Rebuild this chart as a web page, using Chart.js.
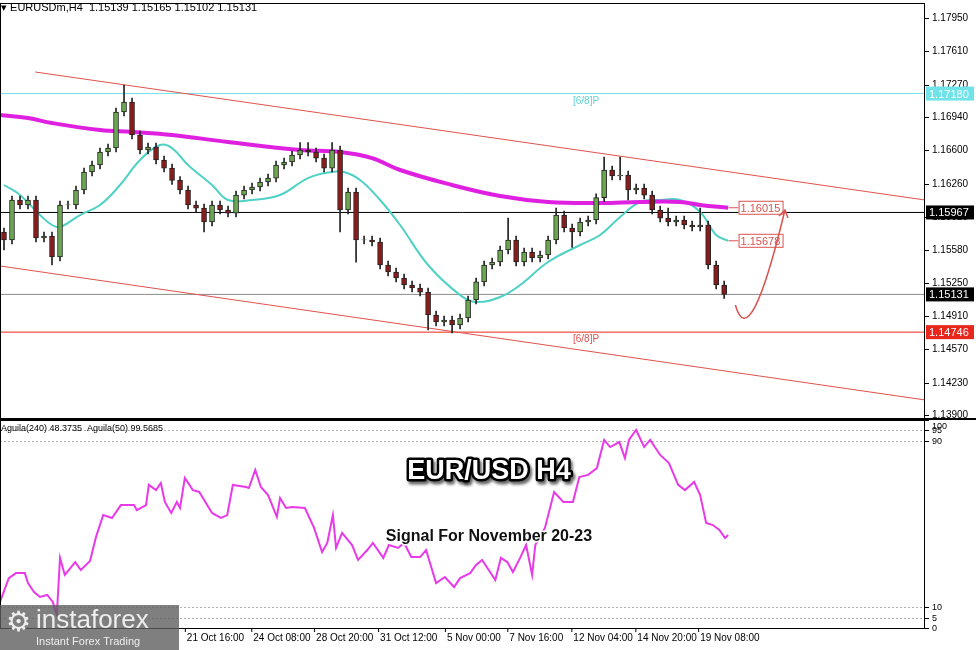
<!DOCTYPE html>
<html><head><meta charset="utf-8">
<script src="https://cdn.jsdelivr.net/npm/chart.js@4.4.1/dist/chart.umd.min.js"></script>
<style>
html,body{margin:0;padding:0;background:#fff;width:976px;height:650px;overflow:hidden;font-family:"Liberation Sans",Arial,sans-serif}
#top{position:absolute;left:0;top:0}
#bot{position:absolute;left:0;top:420px}
#sep{position:absolute;left:0;top:418px;width:976px;height:2px;background:#000}
</style></head><body>
<canvas id="top" width="976" height="418"></canvas>
<div id="sep"></div>
<canvas id="bot" width="976" height="230"></canvas>
<script>
// H4 candles, one per 8h step (index = position along the x axis)
const opens = [1.15768,1.15686,1.16094,1.16043,1.16094,1.15706,1.15727,1.15513,1.16043,1.16043,1.16196,1.16380,1.16451,1.16584,1.16625,1.16992,1.17094,1.16757,1.16604,1.16635,1.16502,1.16420,1.16294,1.16196,1.16043,1.16012,1.15870,1.16043,1.15992,1.15961,1.16144,1.16196,1.16227,1.16278,1.16318,1.16451,1.16482,1.16553,1.16604,1.16584,1.16522,1.16420,1.16604,1.15992,1.16176,1.15686,1.15686,1.15666,1.15431,1.15360,1.15298,1.15227,1.15196,1.15155,1.14921,1.14850,1.14870,1.14819,1.14890,1.15074,1.15258,1.15431,1.15462,1.15584,1.15686,1.15462,1.15564,1.15502,1.15533,1.15686,1.15940,1.15808,1.15768,1.15870,1.15890,1.16118,1.16400,1.16339,1.16349,1.16196,1.16216,1.16144,1.15992,1.15910,1.15870,1.15890,1.15839,1.15819,1.15839,1.15431,1.15227];
const closes = [1.15686,1.16094,1.16043,1.16094,1.15706,1.15727,1.15513,1.16043,1.16043,1.16196,1.16380,1.16451,1.16584,1.16625,1.16992,1.17094,1.16757,1.16604,1.16635,1.16502,1.16420,1.16294,1.16196,1.16043,1.16012,1.15870,1.16043,1.15992,1.15961,1.16144,1.16196,1.16227,1.16278,1.16318,1.16451,1.16482,1.16553,1.16604,1.16584,1.16522,1.16420,1.16604,1.15992,1.16176,1.15686,1.15686,1.15666,1.15431,1.15360,1.15298,1.15227,1.15196,1.15155,1.14921,1.14850,1.14870,1.14819,1.14890,1.15074,1.15258,1.15431,1.15462,1.15584,1.15686,1.15462,1.15564,1.15502,1.15533,1.15686,1.15940,1.15808,1.15768,1.15870,1.15890,1.16118,1.16400,1.16339,1.16349,1.16196,1.16216,1.16144,1.15992,1.15910,1.15870,1.15890,1.15839,1.15819,1.15839,1.15431,1.15227,1.15131];
const highs = [1.15808,1.16134,1.16134,1.16134,1.16134,1.15767,1.15767,1.16083,1.16083,1.16236,1.16420,1.16491,1.16624,1.16665,1.17032,1.17267,1.17134,1.16797,1.16675,1.16675,1.16542,1.16460,1.16334,1.16236,1.16083,1.16052,1.16083,1.16083,1.16032,1.16184,1.16236,1.16267,1.16318,1.16358,1.16491,1.16522,1.16593,1.16680,1.16680,1.16624,1.16562,1.16680,1.16644,1.16216,1.16216,1.15726,1.15726,1.15706,1.15471,1.15400,1.15338,1.15267,1.15236,1.15195,1.14961,1.14910,1.14910,1.14930,1.15114,1.15298,1.15471,1.15502,1.15624,1.15910,1.15726,1.15604,1.15604,1.15573,1.15726,1.16012,1.15980,1.15848,1.15910,1.15930,1.16158,1.16533,1.16440,1.16533,1.16389,1.16256,1.16256,1.16184,1.16032,1.16012,1.15930,1.15930,1.15879,1.16012,1.15879,1.15471,1.15267];
const lows = [1.15584,1.15646,1.16003,1.16003,1.15666,1.15666,1.15431,1.15473,1.16003,1.16003,1.16156,1.16340,1.16411,1.16544,1.16585,1.16952,1.16717,1.16564,1.16564,1.16462,1.16380,1.16254,1.16156,1.16003,1.15972,1.15768,1.15830,1.15952,1.15921,1.15921,1.16104,1.16156,1.16187,1.16238,1.16278,1.16411,1.16442,1.16513,1.16544,1.16482,1.16380,1.16380,1.15768,1.15952,1.15461,1.15646,1.15626,1.15391,1.15320,1.15258,1.15187,1.15156,1.15115,1.14768,1.14810,1.14810,1.14737,1.14779,1.14850,1.15034,1.15218,1.15391,1.15422,1.15544,1.15422,1.15422,1.15462,1.15462,1.15493,1.15646,1.15768,1.15610,1.15728,1.15830,1.15850,1.16078,1.16299,1.16299,1.16094,1.16156,1.16104,1.15952,1.15870,1.15830,1.15830,1.15799,1.15779,1.15779,1.15391,1.15187,1.15091];

const fastMaX = [0,2,4.5,6,7,9.5,12,14.5,17,19.5,21,23,26,28,31,34.5,38,41,42.5,44.5,47,49.5,53,57,59,62,64.5,68,72,74.5,77,79.5,82,84.5,87,89,90.5];
const fastMa = [1.16247,1.16145,1.15941,1.15839,1.15819,1.15941,1.16043,1.16247,1.16502,1.16655,1.16624,1.16451,1.16247,1.16094,1.16094,1.16145,1.16318,1.16380,1.16380,1.16298,1.16094,1.15839,1.15431,1.15124,1.15053,1.15104,1.15227,1.15462,1.15635,1.15737,1.15921,1.16074,1.16094,1.16094,1.15972,1.15737,1.15678];
const slowMaX = [-0.5,3,6,12,16,21,28,37,42,46,49.5,56,62,68,74.5,79.5,84.5,87,90.5];
const slowMa = [1.16961,1.16930,1.16879,1.16808,1.16788,1.16757,1.16686,1.16604,1.16584,1.16522,1.16400,1.16247,1.16135,1.16074,1.16063,1.16074,1.16074,1.16043,1.16015];

const upperChannel = [[3.9,1.17400],[115.1,1.16094]];
const lowerChannel = [[-0.5,1.15421],[115.1,1.14054]];
const levels = {cyan:1.17180, black:1.15967, grey:1.15131, red:1.14746};
const priceTicks = [1.17950,1.17610,1.17270,1.16940,1.16600,1.16260,1.15920,1.15580,1.15250,1.14910,1.14570,1.14230,1.13900];

const aguilaX = [-0.5,0.6,1.5,2.6,3,3.75,4.5,5.4,6.1,6.6,7,7.6,8.9,9.6,10.75,11.5,12.4,13.5,14.6,16.25,16.6,17.75,18.1,19,19.6,20.1,20.9,21.6,22,22.6,23.6,24.4,26,27.1,27.9,28.6,30.25,30.6,31.4,32.1,33,34.1,34.5,35.25,36,37.6,38.75,39.75,40.4,41.1,41.5,42.25,43.5,44.25,45.4,46.1,47.4,48.1,49.25,50,50.9,52,52.75,54,55.1,56.25,57,58.25,59,59.75,61.4,62.1,62.9,63.6,64.5,65.25,66,66.4,67.6,68.75,69.9,71.1,71.9,73,74.1,75,75.75,76.9,77.6,78.1,79,80,80.75,82,83.1,84.25,85.1,86.25,87,87.75,88.6,89.4,90.1,90.5];
const aguila = [12.5,24.0,26.4,26.4,21.6,17.3,14.9,15.9,12.5,6.3,33.7,25.5,31.7,27.9,32.2,43.8,54.3,52.9,59.1,59.1,56.7,59.1,68.8,66.3,69.7,60.6,55.3,60.6,57.7,72.1,66.3,65.4,55.3,52.9,54.3,68.8,67.8,67.3,76.0,67.8,63.9,53.4,62.5,57.7,58.2,57.7,48.1,36.5,40.9,54.3,38.5,45.7,39.9,32.7,37.5,40.9,33.7,39.9,38.5,40.9,34.1,34.1,37.5,21.6,24.5,19.7,24.0,26.4,30.3,32.7,23.1,33.7,31.7,26.9,33.7,39.9,25.5,39.9,48.1,65.4,60.6,60.6,72.6,73.6,76.9,90.4,87.0,89.4,81.7,90.4,95.2,87.0,90.4,83.2,79.3,68.8,66.3,70.2,63.9,50.5,49.5,47.1,43.3,44.7];
const aguilaTicks = [0,5,10,90,95,100];

const timeTickX = [22.6,30.9,38.75,46.75,55.1,62.9,70.9,78.9,86.75];
const timeTickLabels = ['21 Oct 16:00','24 Oct 08:00','28 Oct 20:00','31 Oct 12:00','5 Nov 00:00','7 Nov 16:00','12 Nov 04:00','14 Nov 20:00','19 Nov 08:00'];

const X_MIN = -0.5, X_MAX = 115.1;
const FONT = '"Liberation Sans", Arial, sans-serif';

const pts = (xs, ys) => xs.map((x, i) => ({x: x, y: ys[i]}));
const hline = v => [{x: X_MIN, y: v}, {x: X_MAX, y: v}];
const line = (data, color, width, extra) => Object.assign({type: 'line', data: data, borderColor: color, borderWidth: width, pointRadius: 0, fill: false}, extra || {});

const bull = opens.map((o, i) => closes[i] >= o);
const bodies = opens.map((o, i) => ({x: i, y: [o, closes[i] === o ? o + 0.00003 : closes[i]]}));
const wicks = highs.map((h, i) => ({x: i, y: [lows[i], h]}));

// right-hand scale labels drawn by hand so the axis adds no padding to the plot
function drawAxisLabels(chart, values, fmt, size) {
  const {ctx, chartArea: a, scales: {y}} = chart;
  ctx.save();
  ctx.fillStyle = '#000'; ctx.strokeStyle = '#000';
  ctx.font = size + 'px ' + FONT; ctx.textBaseline = 'middle';
  values.forEach(v => {
    const py = Math.round(y.getPixelForValue(v)) + 0.5;
    ctx.beginPath(); ctx.moveTo(925, py); ctx.lineTo(929, py); ctx.stroke();
    ctx.fillText(fmt(v), 932, Math.max(py, a.top + 7));
  });
  ctx.restore();
}

const topPlugin = {
  id: 'topDecor',
  afterDatasetsDraw(chart) {
    const {ctx, chartArea: a, scales: {x, y}} = chart;
    ctx.save();
    ctx.font = '10px ' + FONT;
    ctx.fillStyle = '#5fd3d3';
    ctx.fillText('[6/8]P', 573, y.getPixelForValue(levels.cyan) + 10);
    ctx.fillStyle = '#d9534f';
    ctx.fillText('[6/8]P', 573, y.getPixelForValue(levels.red) + 10);
    const box = (v, xi, txt) => {
      const px = x.getPixelForValue(xi), py = y.getPixelForValue(v);
      ctx.strokeStyle = '#d9534f'; ctx.lineWidth = 1;
      ctx.beginPath(); ctx.moveTo(px - 10, py); ctx.lineTo(px, py); ctx.stroke();
      ctx.fillStyle = '#fff'; ctx.fillRect(px, py - 7, 44, 14); ctx.strokeRect(px + 0.5, py - 6.5, 44, 13);
      ctx.fillStyle = '#d9534f'; ctx.font = '11px ' + FONT; ctx.textBaseline = 'middle';
      ctx.fillText(txt, px + 2, py + 1);
    };
    box(slowMa[slowMa.length - 1], 91.8, '1.16015');
    box(fastMa[fastMa.length - 1], 91.8, '1.15678');
    const p0 = [x.getPixelForValue(91.4), y.getPixelForValue(1.15023)];
    const p1 = [x.getPixelForValue(97.6), y.getPixelForValue(1.15992)];
    const c = [x.getPixelForValue(93.2), y.getPixelForValue(1.14500)];
    ctx.strokeStyle = '#d9534f'; ctx.lineWidth = 1.5;
    ctx.beginPath(); ctx.moveTo(p0[0], p0[1]); ctx.quadraticCurveTo(c[0], c[1], p1[0], p1[1]); ctx.stroke();
    ctx.beginPath(); ctx.moveTo(p1[0] - 6, p1[1] + 6); ctx.lineTo(p1[0], p1[1]); ctx.lineTo(p1[0] + 3, p1[1] + 8); ctx.stroke();
    ctx.strokeStyle = '#000'; ctx.lineWidth = 1;
    ctx.strokeRect(a.left + 0.5, a.top + 0.5, a.right - a.left - 1, a.bottom - a.top);
    ctx.restore();
  },
  afterDraw(chart) {
    const {ctx, scales: {y}} = chart;
    drawAxisLabels(chart, priceTicks, v => v.toFixed(5), 10);
    ctx.save();
    const tag = (v, bg, fg) => {
      const py = y.getPixelForValue(v);
      ctx.fillStyle = bg; ctx.fillRect(926, py - 7, 48, 14);
      ctx.fillStyle = fg; ctx.font = '11px ' + FONT; ctx.textBaseline = 'middle';
      ctx.fillText(v.toFixed(5), 929, py + 1);
    };
    tag(levels.cyan, '#6fe3e8', '#fff');
    tag(levels.black, '#000', '#fff');
    tag(levels.grey, '#000', '#fff');
    tag(levels.red, '#e8261c', '#fff');
    ctx.fillStyle = '#000'; ctx.font = '11px ' + FONT; ctx.textBaseline = 'middle';
    ctx.fillText('\u25BE EURUSDm,H4  1.15139 1.15165 1.15102 1.15131', 1, 8);
    ctx.restore();
  }
};

new Chart(document.getElementById('top'), {
  type: 'bar',
  data: {datasets: [
    line(pts(slowMaX, slowMa), '#e020e0', 4, {tension: 0.4}),
    line(pts(fastMaX, fastMa), '#4fd1c5', 2, {tension: 0.4}),
    line(upperChannel.map(p => ({x: p[0], y: p[1]})), '#e0524a', 1),
    line(lowerChannel.map(p => ({x: p[0], y: p[1]})), '#e0524a', 1),
    line(hline(levels.cyan), '#6fe3e8', 1),
    line(hline(levels.black), '#000', 1),
    line(hline(levels.grey), '#8a8a8a', 1),
    line(hline(levels.red), '#e8261c', 1),
    {type: 'bar', data: bodies, backgroundColor: bull.map(b => b ? '#6aa84f' : '#8b1a1a'), borderColor: '#222', borderWidth: 1, borderSkipped: false, barThickness: 5, grouped: false, order: -2},
    {type: 'bar', data: wicks, backgroundColor: '#222', barThickness: 1, grouped: false, order: -1}
  ]},
  options: {
    animation: false, responsive: false, devicePixelRatio: 1,
    layout: {padding: {top: 3, bottom: 0, left: 0}},
    plugins: {legend: {display: false}, tooltip: {enabled: false}},
    scales: {
      x: {type: 'linear', min: X_MIN, max: X_MAX, display: false, offset: false},
      y: {position: 'right', min: 1.13870, max: 1.18104,
        afterFit: s => { s.width = 51; },
        grid: {display: false}, border: {display: false},
        ticks: {display: false}}
    }
  },
  plugins: [topPlugin]
});

const botPlugin = {
  id: 'botDecor',
  beforeDatasetsDraw(chart) {
    const {ctx, chartArea: a, scales: {y}} = chart;
    ctx.save();
    ctx.strokeStyle = '#b0b0b0'; ctx.setLineDash([2, 2]); ctx.lineWidth = 1;
    [5, 10, 90, 95].forEach(v => {
      const py = Math.round(y.getPixelForValue(v)) + 0.5;
      ctx.beginPath(); ctx.moveTo(a.left, py); ctx.lineTo(a.right, py); ctx.stroke();
    });
    ctx.restore();
  },
  afterDraw(chart) {
    const {ctx, chartArea: a, scales: {x}} = chart;
    drawAxisLabels(chart, aguilaTicks, v => String(v), 9);
    ctx.save();
    ctx.strokeStyle = '#000'; ctx.lineWidth = 1;
    ctx.strokeRect(a.left + 0.5, a.top + 0.5, a.right - a.left - 1, a.bottom - a.top);
    ctx.fillStyle = '#000'; ctx.font = '9px ' + FONT; ctx.textBaseline = 'middle';
    ctx.fillText('Aguila(240) 48.3735  Aguila(50) 99.5685', 1, 9);
    ctx.font = '10px ' + FONT;
    timeTickX.forEach((v, i) => {
      const px = x.getPixelForValue(v);
      ctx.beginPath(); ctx.moveTo(px + 0.5, a.bottom); ctx.lineTo(px + 0.5, a.bottom + 4); ctx.stroke();
      ctx.fillText(timeTickLabels[i], px + 2, a.bottom + 10);
    });
    ctx.textAlign = 'center';
    ctx.font = 'bold 27px ' + FONT;
    ctx.lineJoin = 'round';
    ctx.strokeStyle = '#000'; ctx.lineWidth = 5;
    ctx.shadowColor = 'rgba(0,0,0,0.6)'; ctx.shadowOffsetX = 2; ctx.shadowOffsetY = 3; ctx.shadowBlur = 3;
    ctx.strokeText('EUR/USD H4', 489, 52);
    ctx.shadowColor = 'transparent';
    ctx.fillStyle = '#fff'; ctx.fillText('EUR/USD H4', 489, 52);
    ctx.font = 'bold 16px ' + FONT;
    ctx.strokeStyle = '#fff'; ctx.lineWidth = 3;
    ctx.strokeText('Signal For November 20-23', 489, 117);
    ctx.fillStyle = '#111'; ctx.fillText('Signal For November 20-23', 489, 117);
    ctx.textAlign = 'left';
    ctx.fillStyle = 'rgba(95,95,95,0.8)'; ctx.fillRect(0, 185, 179, 45);
    ctx.fillStyle = '#eee'; ctx.font = '28px ' + FONT;
    ctx.fillText('\u2699', 6, 203);
    ctx.font = '26px ' + FONT; ctx.fillText('instaforex', 36, 201);
    ctx.font = '11px ' + FONT; ctx.fillText('Instant Forex Trading', 36, 222);
    ctx.restore();
  }
};

new Chart(document.getElementById('bot'), {
  type: 'line',
  data: {datasets: [line(pts(aguilaX, aguila), '#e83ae8', 2)]},
  options: {
    animation: false, responsive: false, devicePixelRatio: 1,
    layout: {padding: {top: 0, bottom: 22}},
    plugins: {legend: {display: false}, tooltip: {enabled: false}},
    scales: {
      x: {type: 'linear', min: X_MIN, max: X_MAX, display: false},
      y: {position: 'right', min: 0, max: 100,
        afterFit: s => { s.width = 51; },
        grid: {display: false}, border: {display: false},
        ticks: {display: false}}
    }
  },
  plugins: [botPlugin]
});
</script>
</body></html>
